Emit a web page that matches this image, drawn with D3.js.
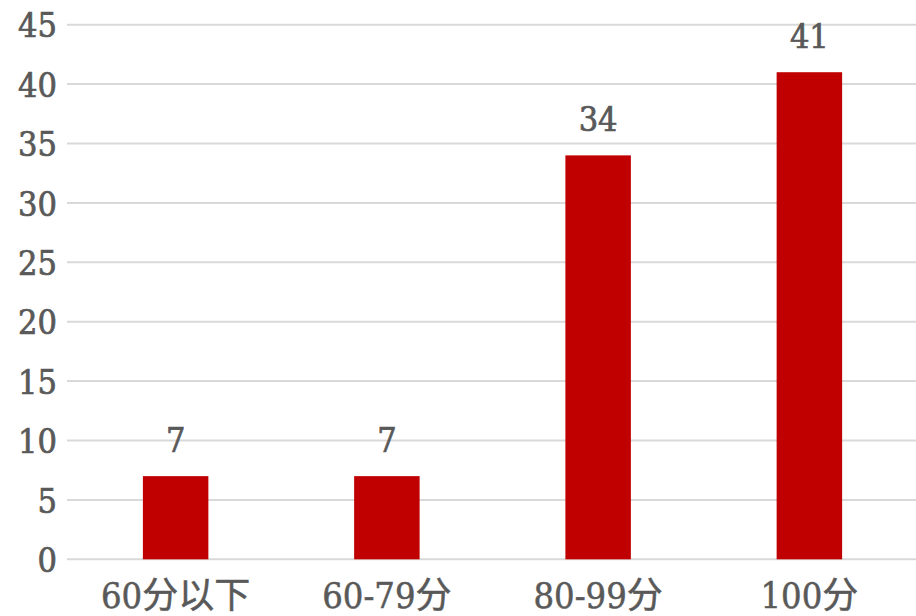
<!DOCTYPE html>
<html>
<head>
<meta charset="utf-8">
<script src="https://cdn.jsdelivr.net/npm/d3@7"></script>
<style>
html,body{margin:0;padding:0;background:#fff;}
svg{display:block;}
</style>
</head>
<body>
<svg id="chart" width="916" height="616"></svg>
<script>
const categories = ["60分以下", "60-79分", "80-99分", "100分"];
const values = [7, 7, 34, 41];
const yTicks = [0, 5, 10, 15, 20, 25, 30, 35, 40, 45];

(function () {
const svg = d3.select("#chart");
const W = 916;
const plotLeft = 70, plotRight = 915, plotTop = 24.7, plotBottom = 559.3;
const gridLeft = 67;
const font = "'DejaVu Serif Condensed', 'DejaVu Serif', 'Noto Sans CJK SC', serif";
const textColor = "#595959";

const x = d3.scaleBand().domain(categories).range([plotLeft, plotRight]).paddingInner(0.69).paddingOuter(0.345);
const y = d3.scaleLinear().domain([0, 45]).range([plotBottom, plotTop]);

// gridlines
svg.append("g").selectAll("line").data(yTicks).join("line")
  .attr("x1", gridLeft).attr("x2", W)
  .attr("y1", d => y(d)).attr("y2", d => y(d))
  .attr("stroke", "#d9d9d9").attr("stroke-width", 2);

// y tick labels
const yAxis = d3.axisLeft(y).tickValues(yTicks).tickSize(0).tickPadding(0);
const gy = svg.append("g").attr("transform", "translate(57,0)").call(yAxis);
gy.select(".domain").remove();
gy.selectAll("text")
  .attr("font-family", font).attr("font-size", 34).attr("fill", textColor)
  .attr("stroke", textColor).attr("stroke-width", 0.7)
  .attr("dy", "0.36em");

// bars
svg.append("g").selectAll("rect").data(values).join("rect")
  .attr("x", (d, i) => x(categories[i]))
  .attr("width", x.bandwidth())
  .attr("y", d => y(d))
  .attr("height", d => y(0) - y(d))
  .attr("fill", "#c00000");

// value labels
svg.append("g").selectAll("text").data(values).join("text")
  .attr("x", (d, i) => x(categories[i]) + x.bandwidth() / 2)
  .attr("y", d => y(d) - 24)
  .attr("text-anchor", "middle")
  .attr("font-family", font).attr("font-size", 34).attr("fill", textColor)
  .attr("stroke", textColor).attr("stroke-width", 0.7)
  .text(d => d);

// x axis labels
const xAxis = d3.axisBottom(x).tickSize(0).tickPadding(0);
const gx = svg.append("g").attr("transform", `translate(0,${plotBottom})`).call(xAxis);
gx.select(".domain").remove();
gx.selectAll("text")
  .attr("font-family", font).attr("font-size", 36).attr("fill", textColor)
  .attr("stroke", textColor).attr("stroke-width", 0.5)
  .attr("dy", null).attr("y", 49);
})();
</script>
</body>
</html>
